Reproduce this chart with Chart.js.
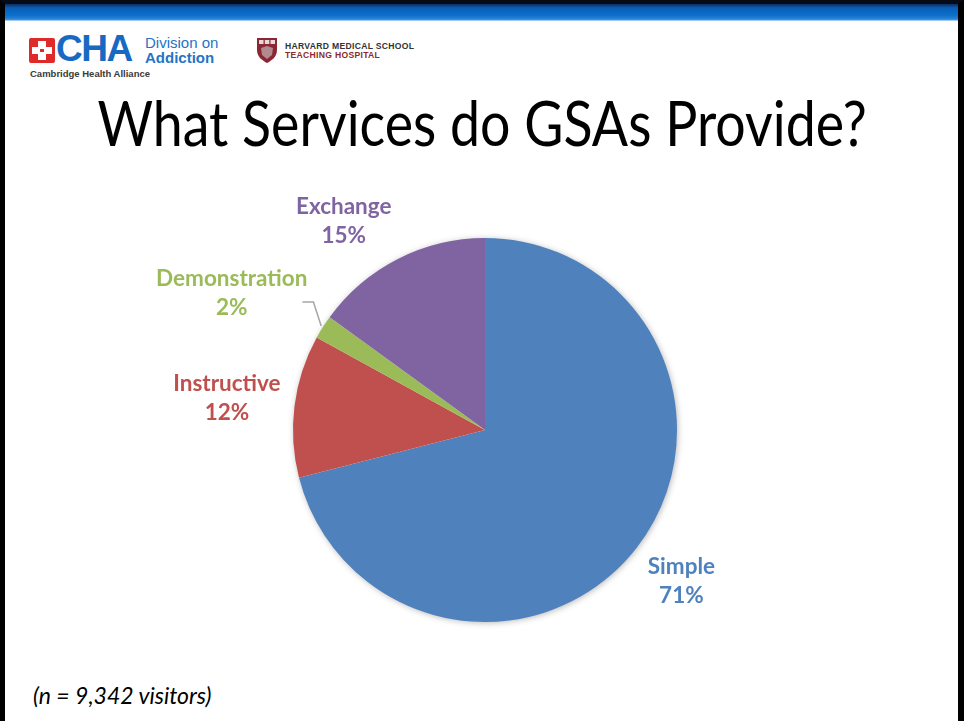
<!DOCTYPE html>
<html>
<head>
<meta charset="utf-8">
<title>What Services do GSAs Provide?</title>
<script src="https://cdn.jsdelivr.net/npm/chart.js@4.4.0/dist/chart.umd.min.js"></script>
<style>
  html, body { margin: 0; padding: 0; background: #fff; }
  #slide { position: relative; width: 964px; height: 721px; overflow: hidden; background: #fff; font-family: Lato, "Open Sans", sans-serif; }
  #marco { position: absolute; left: 0; top: 0; width: 964px; height: 721px; box-sizing: border-box;
           border-left: 5px solid #000; border-right: 6px solid #000; border-top: 4px solid #040a18; }
  #barra { position: absolute; left: 5px; right: 6px; top: 4px; height: 17px;
           background: linear-gradient(to bottom, #0b2c62 0%, #0a5cb4 22%, #0b6fcc 65%, #2a86d6 90%, #cfe3f4 100%); }
  /* logos de cabecera */
  #cruz { position: absolute; left: 29px; top: 38px; width: 26px; height: 25px; background: #e02a2a; border-radius: 2px; }
  #cruz .v { position: absolute; left: 9px; top: 3px; width: 8px; height: 19px; background: #fff; }
  #cruz .h { position: absolute; left: 3px; top: 9px; width: 20px; height: 7px; background: #fff; }
  #cruz .c { position: absolute; left: 11px; top: 11px; width: 4px; height: 3px; background: #e02a2a; }
  #cha { position: absolute; left: 56px; top: 28px; font: bold 37px "Liberation Sans", Arial, sans-serif; color: #1769c2; letter-spacing: -1.5px; }
  #division { position: absolute; left: 145px; top: 35px; font: 15px "Liberation Sans", Arial, sans-serif; color: #2474c6; line-height: 15px; }
  #division b { font-size: 15px; }
  #cambridge { position: absolute; left: 30px; top: 68px; font: bold 9.5px "Liberation Sans", Arial, sans-serif; color: #3a3a3a; }
  #escudo { position: absolute; left: 257px; top: 38px; }
  #harvard { position: absolute; left: 285px; top: 42px; font: bold 8.6px "Liberation Sans", Arial, sans-serif; color: #333; line-height: 9px; letter-spacing: 0.3px; }
  #harvard span { color: #8b2b2b; }
  #titulo { position: absolute; left: 0; width: 964px; top: 86px; text-align: center; font: 61px Lato, "Open Sans", sans-serif; color: #000;
            white-space: nowrap; transform: scaleX(0.88); transform-origin: 483px 0; }
  #nota { position: absolute; left: 33px; top: 681px; font: italic 23px Lato, "Open Sans", sans-serif; color: #000; }
  #grafico { position: absolute; left: 0; top: 0; }
</style>
</head>
<body>
<div id="slide">
  <div id="barra"></div>
  <div id="marco"></div>
  <div id="cruz"><div class="v"></div><div class="h"></div><div class="c"></div></div>
  <div id="cha">CHA</div>
  <div id="division">Division on<br><b>Addiction</b></div>
  <div id="cambridge">Cambridge Health Alliance</div>
  <svg id="escudo" width="20" height="25" viewBox="0 0 20 25">
    <path d="M0 0 H20 V12 C20 19 14 23 10 25 C6 23 0 19 0 12 Z" fill="#8c2633"/>
    <rect x="2" y="2" width="4.5" height="4" fill="#e6d9d9"/>
    <rect x="7.8" y="2" width="4.5" height="4" fill="#e6d9d9"/>
    <rect x="13.5" y="2" width="4.5" height="4" fill="#e6d9d9"/>
    <path d="M4 10 L10 8 L16 10 L15 17 L10 21 L5 17 Z" fill="#b08a8f"/>
  </svg>
  <div id="harvard">HARVARD MEDICAL SCHOOL<br><span>TEACHING HOSPITAL</span></div>
  <div id="titulo">What Services do GSAs Provide?</div>
  <div id="nota">(n = 9,342 visitors)</div>
  <canvas id="grafico" width="964" height="721"></canvas>
</div>

<script>
// Datos de la gráfica
const categorias = ['Simple', 'Instructive', 'Demonstration', 'Exchange'];
const porcentajes = [71, 12, 2, 15];
const colores = ['#4F81BD', '#C0504D', '#9BBB59', '#8064A2'];

// Sombra suave alrededor del pastel
const sombraPlugin = {
  id: 'sombra',
  beforeDatasetsDraw(chart) {
    const arc = chart.getDatasetMeta(0).data[0];
    if (!arc) return;
    const p = arc.getProps(['x', 'y', 'outerRadius']);
    const ctx = chart.ctx;
    ctx.save();
    ctx.shadowColor = 'rgba(0,0,0,0.35)';
    ctx.shadowBlur = 7;
    ctx.shadowOffsetX = 1;
    ctx.shadowOffsetY = 1;
    ctx.fillStyle = '#fff';
    ctx.beginPath();
    ctx.arc(p.x, p.y, p.outerRadius - 1, 0, Math.PI * 2);
    ctx.fill();
    ctx.restore();
  }
};

// Etiquetas fuera de cada sector (nombre + porcentaje)
const etiquetasPlugin = {
  id: 'etiquetas',
  afterDatasetsDraw(chart) {
    const ctx = chart.ctx;
    const meta = chart.getDatasetMeta(0);
    const lh = 29;
    ctx.save();
    ctx.font = 'bold 22.5px Lato, "Open Sans", sans-serif';
    ctx.textAlign = 'center';
    ctx.textBaseline = 'middle';
    meta.data.forEach((arc, i) => {
      const p = arc.getProps(['x', 'y', 'startAngle', 'endAngle', 'outerRadius']);
      const mid = (p.startAngle + p.endAngle) / 2;
      const dx = Math.cos(mid), dy = Math.sin(mid);
      const lineas = [categorias[i], porcentajes[i] + '%'];
      const w = Math.max(...lineas.map(t => ctx.measureText(t).width));
      const h = 50;
      let cx, cy;
      if (porcentajes[i] < 5) {
        // sector pequeño: etiqueta desplazada con línea guía
        const ini = { x: p.x + dx * (p.outerRadius + 2), y: p.y + dy * (p.outerRadius + 2) };
        const a2 = mid + 4.3 * Math.PI / 180;
        const codo = { x: p.x + Math.cos(a2) * (p.outerRadius + 22), y: p.y + Math.sin(a2) * (p.outerRadius + 22) };
        ctx.strokeStyle = '#a6a6a6';
        ctx.lineWidth = 1.5;
        ctx.beginPath();
        ctx.moveTo(ini.x, ini.y);
        ctx.lineTo(codo.x, codo.y);
        ctx.lineTo(codo.x - 11, codo.y);
        ctx.stroke();
        cx = codo.x - 6 - w / 2;
        cy = codo.y - 9;
      } else {
        const r = p.outerRadius + 14;
        const ax = p.x + dx * r, ay = p.y + dy * r;
        const clamp = v => Math.max(-1, Math.min(1, v));
        cx = ax + clamp(dx * 2.4) * w / 2;
        cy = ay + clamp(dy * 2) * h / 2;
      }
      ctx.fillStyle = colores[i];
      ctx.fillText(lineas[0], cx, cy - lh / 2);
      ctx.fillText(lineas[1], cx, cy + lh / 2);
    });
    ctx.restore();
  }
};

new Chart(document.getElementById('grafico').getContext('2d'), {
  type: 'pie',
  data: {
    labels: categorias,
    datasets: [{
      data: porcentajes,
      backgroundColor: colores,
      borderWidth: 0
    }]
  },
  options: {
    responsive: false,
    animation: false,
    layout: { padding: { left: 293, right: 287, top: 238, bottom: 99 } },
    plugins: {
      legend: { display: false },
      tooltip: { enabled: false }
    }
  },
  plugins: [sombraPlugin, etiquetasPlugin]
});
</script>
</body>
</html>
